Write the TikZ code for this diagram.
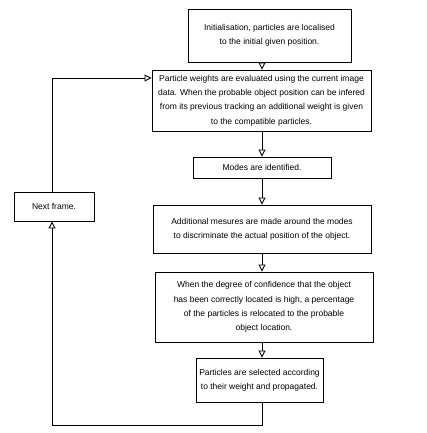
\documentclass[tikz,border=0pt]{standalone}
\usepackage{fontspec}
\setmainfont{Liberation Sans}
\usetikzlibrary{arrows.meta}
\begin{document}
\begin{tikzpicture}[x=1pt,y=-1pt,
  box/.style={draw, line width=0.9pt, align=center, inner sep=0pt,
    font=\fontsize{8.5}{14.3}\selectfont},
  arr/.style={line width=0.9pt, -{Triangle[open,length=7pt,width=7pt]}},
  ln/.style={line width=0.9pt}]
\useasboundingbox (0,0) rectangle (427,433);
\node[box, minimum width=163, minimum height=53] (b1) at (269.5,35.5)
  {Initialisation, particles are localised\\to the initial given position.};
\node[box, minimum width=219, minimum height=61] (b2) at (261.5,100.5)
  {Particle weights are evaluated using the current image\\data. When the probable object position can be infered\\from its previous tracking an additional weight is given\\to the compatible particles.};
\node[box, minimum width=138, minimum height=21] (b3) at (262,167.5)
  {Modes are identified.};
\node[box, minimum width=218, minimum height=48] (b4) at (262,229)
  {Additional mesures are made around the modes\\to discriminate the actual position of the object.};
\node[box, minimum width=218, minimum height=70] (b5) at (264,307)
  {When the degree of confidence that the object\\has been correctly located is high, a percentage\\of the particles is relocated to the probable\\object location.};
\node[box, minimum width=127, minimum height=44] (b6) at (259.5,380)
  {Particles are selected according\\to their weight and propagated.};
\node[box, minimum width=80, minimum height=29] (nf) at (54,206.5)
  {Next frame.};
\coordinate (ax) at (262,0);
\coordinate (lx) at (52,0);
\coordinate (bot) at (262,425);
\coordinate (botl) at (52,425);
\coordinate (topl) at (52,78);
\draw[arr] (b1.south -| ax) -- (b2.north -| ax);
\draw[arr] (b2.south -| ax) -- (b3.north -| ax);
\draw[arr] (b3.south -| ax) -- (b4.north -| ax);
\draw[arr] (b4.south -| ax) -- (b5.north -| ax);
\draw[arr] (b5.south -| ax) -- (b6.north -| ax);
\draw[arr] (b6.south -| ax) -- (bot) -- (botl) -- (nf.south -| lx);
\draw[arr] (nf.north -| lx) -- (topl) -- (b2.west |- topl);
\end{tikzpicture}
\end{document}
